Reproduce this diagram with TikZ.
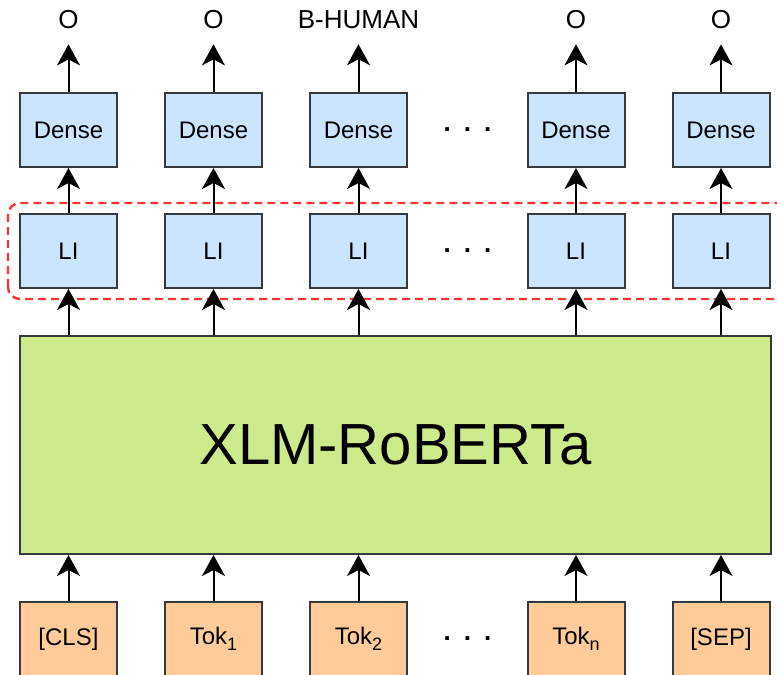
\documentclass[tikz,border=0pt]{standalone}
\usepackage{fontspec}
\setmainfont{Liberation Sans}
\usepackage{tikz}
\usetikzlibrary{arrows.meta,positioning}
\definecolor{boxline}{HTML}{36393D}
\definecolor{liblue}{HTML}{CCE5FF}
\definecolor{xlmgreen}{HTML}{CDEB8B}
\definecolor{tokorange}{HTML}{FFCC99}
\definecolor{grpred}{HTML}{FF3333}
\newcommand{\tsub}[1]{\raisebox{-6pt}{\fontsize{18}{20}\selectfont #1}}

\begin{document}
\begin{tikzpicture}[x=1pt,y=1pt,
  blk/.style={draw=boxline,line width=2pt,minimum width=97pt,minimum height=74pt,inner sep=0pt,font=\fontsize{24}{28}\selectfont},
  bluebox/.style={blk,fill=liblue},
  tokbox/.style={blk,fill=tokorange},
  outlbl/.style={inner sep=3pt,font=\fontsize{26}{30}\selectfont},
  dotrow/.style={inner sep=0pt,font=\fontsize{26}{30}\selectfont\bfseries},
  arr/.style={-{Stealth[length=21pt,width=23pt,inset=6pt]},line width=2pt}]
\useasboundingbox (0,0) rectangle (777,675);
\clip (0,0) rectangle (777,675);

% group frame round the LI layer
\draw[grpred,line width=2.4pt,dash pattern=on 8pt off 5pt,rounded corners=12pt] (8,376) rectangle (790,472);

% encoder
\node[blk,fill=xlmgreen,minimum width=751pt,minimum height=218pt,font=\fontsize{58}{62}\selectfont] (xlm) at (395.5,230) {XLM-RoBERTa};

% input tokens
\node[tokbox] (tok1) at (68.5,36) {[CLS]};
\node[tokbox] (tok2) at (213.5,36) {Tok\tsub{1}};
\node[tokbox] (tok3) at (358.5,36) {Tok\tsub{2}};
\node[tokbox] (tok4) at (576,36) {Tok\tsub{n}};
\node[tokbox] (tok5) at (721,36) {[SEP]};

% LI layer
\node[bluebox] (li1) at (68.5,424) {LI};
\node[bluebox] (li2) at (213.5,424) {LI};
\node[bluebox] (li3) at (358.5,424) {LI};
\node[bluebox] (li4) at (576,424) {LI};
\node[bluebox] (li5) at (721,424) {LI};

% dense layer
\node[bluebox] (dense1) at (68.5,545) {Dense};
\node[bluebox] (dense2) at (213.5,545) {Dense};
\node[bluebox] (dense3) at (358.5,545) {Dense};
\node[bluebox] (dense4) at (576,545) {Dense};
\node[bluebox] (dense5) at (721,545) {Dense};

% tags
\node[outlbl] (out1) at (68.5,655) {O};
\node[outlbl] (out2) at (213.5,655) {O};
\node[outlbl] (out3) at (358.5,655) {B-HUMAN};
\node[outlbl] (out4) at (576,655) {O};
\node[outlbl] (out5) at (721,655) {O};

% dots
\node[dotrow] (dots1) at (467.5,545) {.\hspace{13pt}.\hspace{13pt}.};
\node[dotrow] (dots2) at (467.5,424) {.\hspace{13pt}.\hspace{13pt}.};
\node[dotrow] (dots3) at (467.5,36) {.\hspace{13pt}.\hspace{13pt}.};

% arrows
\foreach \i in {1,...,5}{
  \draw[arr] (tok\i) -- (tok\i |- xlm.south);
  \draw[arr] (li\i |- xlm.north) -- (li\i);
  \draw[arr] (li\i) -- (dense\i);
  \draw[arr,shorten >=12pt] (dense\i) -- (out\i.south);
}
\end{tikzpicture}
\end{document}
